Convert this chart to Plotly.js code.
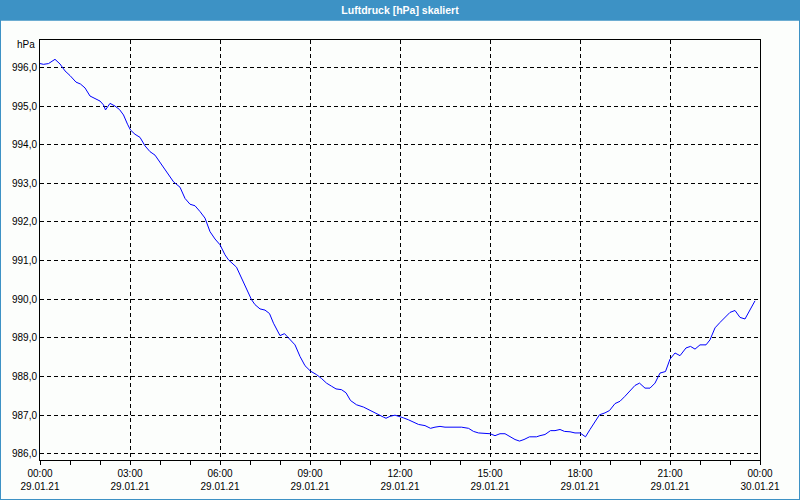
<!DOCTYPE html>
<html>
<head>
<meta charset="utf-8">
<script src="https://cdn.plot.ly/plotly-3.0.1.min.js"></script>
<style>
  html, body { margin: 0; padding: 0; background: #fcfefc; }
  #chart { width: 800px; height: 500px; }
</style>
</head>
<body>
<div id="chart"></div>
<script>
// Minutes after 29.01.21 00:00
const minutes = [0,7,17,30,40,50,60,72,81,90,100,110,120,127,131,140,150,159,167,175,181,190,200,210,220,230,
  240,253,267,280,290,300,310,320,330,340,350,360,370,377,393,403,413,423,430,440,450,459,467,480,
  489,500,510,520,530,541,553,563,573,583,592,603,612,621,633,647,657,667,677,687,692,700,710,
  720,727,737,747,757,770,781,790,800,810,827,843,857,867,877,890,900,910,920,930,940,950,959,968,979,
  993,1000,1010,1021,1030,1040,1049,1060,1070,1080,1091,1100,1110,1119,1130,1139,1150,1160,1170,1180,1190,1199,
  1210,1220,1230,1240,1251,1260,1270,1280,1292,1301,1310,1320,1332,1340,1350,1360,1370,1380,1390,1400,1410,1420,1430];
// Luftdruck in hPa
const pressure = [996.10,996.08,996.10,996.21,996.09,995.91,995.79,995.62,995.57,995.47,995.26,995.20,995.13,995.03,994.90,995.07,995.00,994.91,994.77,994.53,994.38,994.27,994.19,993.97,993.82,993.73,
  993.54,993.30,993.04,992.90,992.61,992.46,992.42,992.27,992.10,991.75,991.56,991.41,991.15,991.02,990.83,990.55,990.25,989.99,989.86,989.75,989.72,989.63,989.38,989.06,
  989.11,988.97,988.82,988.52,988.28,988.14,988.05,987.95,987.83,987.75,987.68,987.66,987.58,987.38,987.27,987.21,987.14,987.08,987.00,986.95,986.92,986.97,987.00,
  986.97,986.93,986.88,986.82,986.76,986.73,986.66,986.69,986.71,986.69,986.69,986.69,986.66,986.58,986.54,986.52,986.52,986.47,986.52,986.52,986.45,986.37,986.33,986.37,986.44,
  986.44,986.47,986.50,986.60,986.60,986.63,986.58,986.57,986.54,986.54,986.44,986.63,986.84,987.01,987.06,987.12,987.30,987.36,987.49,987.62,987.77,987.83,
  987.70,987.70,987.83,988.09,988.13,988.45,988.61,988.54,988.74,988.78,988.71,988.82,988.82,988.95,989.26,989.40,989.54,989.66,989.71,989.53,989.49,989.73,989.96];

const tickTimes = ['00:00','03:00','06:00','09:00','12:00','15:00','18:00','21:00','00:00'];
const tickDates = ['29.01.21','29.01.21','29.01.21','29.01.21','29.01.21','29.01.21','29.01.21','29.01.21','30.01.21'];
const yTicks = [986,987,988,989,990,991,992,993,994,995,996];

const BASE = Date.UTC(2021, 0, 29);
function toDate(m) {
  const d = new Date(BASE + m * 60000);
  const p = n => String(n).padStart(2, '0');
  return d.getUTCFullYear() + '-' + p(d.getUTCMonth() + 1) + '-' + p(d.getUTCDate()) + ' ' +
         p(d.getUTCHours()) + ':' + p(d.getUTCMinutes());
}
const xs = minutes.map(toDate);
const tickvals = tickTimes.map((t, i) => toDate(i * 180));
const ticktext = tickTimes.map((t, i) => t + '<br>' + tickDates[i]);

const FONT = 'Liberation Sans, Arial, sans-serif';
const BLUE_BAR = '#3d92c5';

const trace = {
  x: xs, y: pressure, type: 'scatter', mode: 'lines',
  line: { color: '#0000ff', width: 1 },
  hoverinfo: 'x+y'
};

const layout = {
  width: 800, height: 500,
  margin: { l: 40, r: 40, t: 40, b: 40 },
  paper_bgcolor: '#fcfefc', plot_bgcolor: '#fcfefc',
  separators: ',.',
  showlegend: false,
  font: { family: FONT, size: 10, color: '#000000' },
  title: {
    text: '<b>Luftdruck [hPa] skaliert</b>',
    font: { family: FONT, size: 10.5, color: '#ffffff' },
    x: 0.5, xanchor: 'center', xref: 'paper',
    y: 0.98, yanchor: 'middle', yref: 'container'
  },
  xaxis: {
    type: 'date',
    range: [toDate(0), toDate(1440)],
    tickmode: 'array', tickvals: tickvals, ticktext: ticktext,
    ticks: 'outside', ticklen: 4, tickcolor: '#000', tickwidth: 1,
    minor: { tickmode: 'linear', tick0: toDate(0), dtick: 3600000, ticks: 'outside', ticklen: 4, tickcolor: '#000', showgrid: false },
    showgrid: true, gridcolor: '#000000', gridwidth: 1, griddash: '4px,3px',
    showline: true, linecolor: '#000000', linewidth: 1, mirror: true,
    zeroline: false, fixedrange: true,
    tickfont: { family: FONT, size: 10, color: '#000' }
  },
  yaxis: {
    range: [985.84, 996.71],
    tickmode: 'array', tickvals: yTicks, ticktext: yTicks.map(v => v.toFixed(1).replace('.', ',')),
    ticks: '', showgrid: true, gridcolor: '#000000', gridwidth: 1, griddash: '4px,3px',
    showline: true, linecolor: '#000000', linewidth: 1, mirror: true,
    zeroline: false, fixedrange: true,
    tickfont: { family: FONT, size: 10, color: '#000' }
  },
  shapes: [
    { type: 'rect', xref: 'paper', yref: 'paper', x0: -0.06, x1: 1.06, y0: 1.0460, y1: 1.1, layer: 'below',
      fillcolor: BLUE_BAR, line: { width: 0 } },
    { type: 'rect', xref: 'paper', yref: 'paper', x0: -40/720, x1: 1 + 40/720, y0: -40/420, y1: 1 + 40/420, layer: 'below',
      fillcolor: 'rgba(0,0,0,0)', line: { color: BLUE_BAR, width: 2 } }
  ],
  annotations: [
    { text: 'hPa', xref: 'paper', yref: 'paper', x: 0, y: (460 - 45) / 420, xanchor: 'right', yanchor: 'middle',
      xshift: -3, showarrow: false, font: { family: FONT, size: 10, color: '#000' } }
  ]
};

Plotly.newPlot('chart', [trace], layout, { displayModeBar: false, staticPlot: true });
</script>
</body>
</html>
